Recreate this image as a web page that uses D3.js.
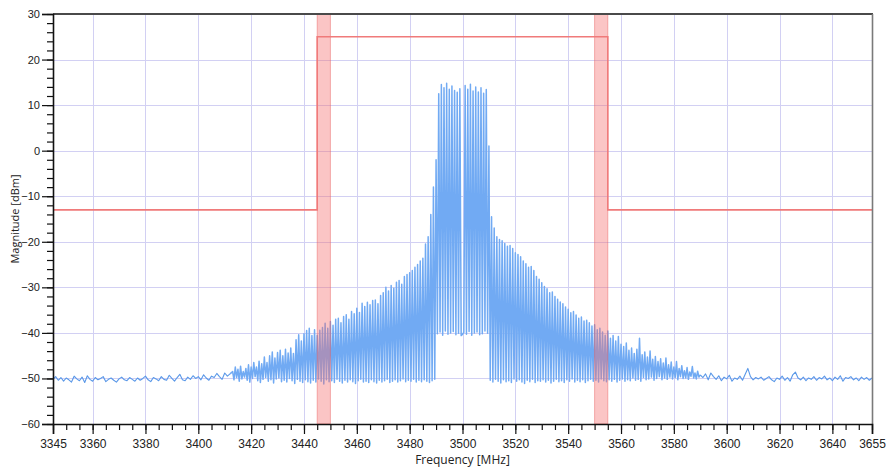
<!DOCTYPE html>
<html><head><meta charset="utf-8">
<script src="https://cdn.jsdelivr.net/npm/d3@7"></script>
<style>
body{margin:0;background:#fff;}
svg{display:block;font-family:"Open Sans",sans-serif;}
</style>
</head><body>
<svg id="chart" width="888" height="468"></svg>
<script>
// ---------------- data ----------------
const xTickLabels = [3345,3360,3380,3400,3420,3440,3460,3480,3500,3520,3540,3560,3580,3600,3620,3640,3655];
const yTickLabels = [-60,-50,-40,-30,-20,-10,0,10,20,30];

// spectrum emission mask (limit line)
const maskFreq  = [3345,3445,3445,3555,3555,3655];
const maskLimit = [-13,-13,25,25,-13,-13];
// highlighted guard bands
const bandStart = [3445,3550];
const bandEnd   = [3450,3555];

// noise floor left: 3345 .. 3412 MHz, 1 MHz step
const floorLeftStart = 3345, floorLeftEnd = 3412;
const floorLeft = [-50.2,-49.6,-50.4,-49.8,-50.6,-49.9,-50.3,-50.8,-49.5,-50.1,
  -50.5,-49.7,-50.9,-49.4,-50.2,-50.6,-49.8,-50.3,-50.0,-49.6,
  -50.7,-50.2,-49.9,-50.4,-50.8,-50.1,-49.7,-50.3,-50.5,-49.8,
  -50.2,-50.6,-49.9,-50.4,-50.0,-49.5,-50.3,-50.7,-49.8,-50.1,
  -50.5,-49.6,-50.2,-50.4,-49.3,-50.0,-50.6,-49.8,-49.1,-50.3,
  -50.5,-49.7,-50.2,-49.4,-50.0,-49.6,-50.3,-49.2,-49.9,-50.4,
  -49.5,-49.8,-48.9,-49.6,-50.2,-48.8,-49.5,-49.0];

// comb region: peaks at 3413 .. 3589 MHz (1 MHz step), troughs half-way after each peak
const combStart = 3413, combEnd = 3589;
const combPeaks = [
  -48.5,-47.5,-48.0,-47.3,-48.5,-47.8,-47.0,-47.5,-46.5,-47.5,
  -46.2,-46.8,-45.3,-46.5,-45.0,-44.2,-45.5,-44.3,-43.8,-45.0,
  -43.6,-44.4,-43.3,-44.5,-41.5,-40.4,-41.8,-40.2,-39.5,-39.0,
  -40.6,-39.3,-40.5,-39.4,-38.8,-37.9,-39.0,-37.5,-38.3,-37.0,
  -36.8,-37.8,-36.4,-36.0,-37.0,-35.3,-35.8,-34.6,-35.5,-33.5,
  -34.2,-33.3,-33.8,-32.9,-32.8,-33.6,-31.8,-31.2,-30.0,-30.8,
  -29.6,-30.2,-28.9,-28.5,-29.3,-27.6,-27.2,-26.8,-26.3,-25.6,
  -25.0,-24.2,-23.6,-20.5,-18.9,-14.0,-8.0,-2.0,12.5,14.5,
  13.8,14.8,13.5,14.2,13.2,12.8,13.6,-40.3,14.3,13.5,
  14.6,13.1,14.0,12.9,13.8,12.6,13.4,1.0,-14.5,-17.0,
  -18.9,-19.5,-19.8,-20.4,-21.0,-20.8,-21.5,-22.4,-22.8,-23.3,
  -24.2,-24.8,-25.6,-25.4,-26.3,-27.6,-28.2,-29.0,-29.8,-30.3,
  -31.2,-31.0,-32.0,-32.6,-33.2,-33.6,-34.3,-34.8,-35.6,-35.3,
  -36.1,-36.8,-36.5,-37.4,-37.2,-37.8,-38.5,-38.2,-39.3,-39.0,
  -39.8,-40.5,-39.6,-41.2,-40.6,-41.8,-40.8,-42.5,-43.0,-42.2,
  -43.8,-43.3,-44.5,-43.6,-41.2,-44.8,-44.2,-45.3,-44.0,-45.8,
  -45.2,-46.3,-45.7,-46.6,-45.5,-47.0,-46.4,-47.5,-46.3,-47.8,
  -47.2,-48.3,-47.6,-48.6,-47.4,-48.8,-48.4];
const combTroughs = [
  -50.3,-49.8,-50.6,-50.1,-49.7,-50.4,-50.8,-50.0,-49.6,-50.5,
  -50.9,-50.2,-49.8,-50.6,-50.3,-51.0,-50.1,-49.9,-50.7,-50.4,
  -50.8,-50.0,-50.5,-51.1,-50.2,-50.6,-50.9,-50.3,-50.7,-51.0,
  -50.4,-50.8,-50.1,-50.6,-51.2,-50.3,-50.7,-50.5,-50.9,-50.2,
  -50.6,-51.0,-50.4,-50.8,-50.3,-50.7,-51.1,-50.5,-50.2,-50.8,
  -50.6,-50.9,-50.3,-50.7,-51.0,-50.4,-50.8,-50.5,-50.2,-50.9,
  -50.6,-50.3,-50.8,-50.5,-50.1,-50.7,-50.4,
  -50.6,-50.2,-50.8,-50.4,-50.7,-50.3,-50.6,-50.9,-50.5,-50.2,
  -40.2,-39.8,-40.5,-39.6,-40.3,-40.0,-39.7,-40.4,-40.1,-40.6,
  -39.9,-40.3,-39.7,-40.5,-40.0,-39.8,-40.4,-40.2,-39.6,-40.1,
  -50.4,-50.8,-50.2,-50.6,-51.0,-50.3,-50.7,-50.5,-50.9,-50.1,
  -50.6,-50.3,-50.8,-51.1,-50.4,-50.7,-50.2,-50.9,-50.5,-50.6,
  -50.3,-50.8,-50.4,-51.0,-50.6,-50.2,-50.7,-50.5,-50.9,-50.3,
  -50.6,-50.1,-50.8,-50.4,-50.7,-50.3,-50.9,-50.5,-50.2,-50.6,
  -50.4,-50.8,-50.1,-50.5,-50.7,-50.3,-50.6,-50.2,-50.8,-50.4,
  -50.1,-50.6,-50.3,-50.5,-49.9,-50.4,-50.2,-50.6,-49.8,-50.3,
  -50.1,-49.7,-50.4,-50.0,-49.6,-50.3,-49.9,-50.2,-49.7,-50.1,
  -49.8,-50.3,-49.6,-50.0,-49.9,-50.2,-49.5,-49.9,-50.1,-49.7];

// noise floor right: 3590 .. 3655 MHz, 1 MHz step
const floorRightStart = 3590, floorRightEnd = 3655;
const floorRight = [-49.2,-49.8,-49.0,-50.3,-48.8,-49.6,-50.2,-49.4,-50.5,-49.7,
  -50.1,-49.3,-50.6,-49.9,-50.2,-49.5,-50.4,-49.1,-47.8,-49.6,
  -50.3,-49.8,-50.1,-49.7,-50.4,-50.0,-49.6,-50.3,-50.7,-49.9,
  -50.2,-49.5,-50.4,-49.8,-50.6,-49.2,-48.6,-49.9,-50.3,-49.7,
  -50.5,-49.9,-50.2,-49.6,-50.4,-49.8,-50.1,-49.5,-50.3,-49.9,
  -50.5,-49.7,-50.2,-49.4,-50.6,-49.8,-50.0,-49.6,-50.3,-49.9,
  -50.5,-49.7,-50.2,-49.8,-50.4,-49.9];

// ---------------- build trace ----------------
function spread(vals, a, b){
  const n = vals.length;
  return vals.map((v,i)=>({f: n>1 ? a + i*(b-a)/(n-1) : a, v}));
}
const leftPts = spread(floorLeft, floorLeftStart, floorLeftEnd);
const rightPts = spread(floorRight, floorRightStart, floorRightEnd);
const combPts = [];
const nComb = combPeaks.length;
for(let i=0;i<nComb;i++){
  const f = combStart + i*(combEnd-combStart)/(nComb-1);
  combPts.push({f, v: combPeaks[i]});
  if (i < combTroughs.length) combPts.push({f: f+0.5, v: combTroughs[i]});
}
combPts.unshift(leftPts[leftPts.length-1]);
combPts.push(rightPts[0]);

// ---------------- chart ----------------
const svg = d3.select("#chart");
const L=53, R=872, T=14, B=424;
const x = d3.scaleLinear().domain([3345,3655]).range([L,R]);
const y = d3.scaleLinear().domain([-60,30]).range([B,T]);

svg.append("defs").append("clipPath").attr("id","clip")
  .append("rect").attr("x",L).attr("y",T).attr("width",R-L).attr("height",B-T);

// grid
const grid = svg.append("g").attr("stroke","#d2d0f3").attr("stroke-width",1);
grid.selectAll("line.v").data(xTickLabels.filter(d=>d>3345 && d<3655)).join("line")
  .attr("x1",d=>Math.round(x(d))+0.5).attr("x2",d=>Math.round(x(d))+0.5)
  .attr("y1",T).attr("y2",B);
grid.selectAll("line.h").data(yTickLabels.filter(d=>d>-60 && d<30)).join("line")
  .attr("y1",d=>Math.round(y(d))+0.5).attr("y2",d=>Math.round(y(d))+0.5)
  .attr("x1",L).attr("x2",R);

// spectrum trace
const line = d3.line().x(d=>x(d.f)).y(d=>y(d.v));
const spec = svg.append("g").attr("clip-path","url(#clip)").attr("fill","none").attr("stroke-linejoin","round");
spec.append("path").datum(combPts)
  .attr("stroke","#71aaf3").attr("stroke-width",1.5).attr("d",line);
spec.append("path").datum(leftPts)
  .attr("stroke","#5a98e8").attr("stroke-width",1.1).attr("d",line);
spec.append("path").datum(rightPts)
  .attr("stroke","#5a98e8").attr("stroke-width",1.1).attr("d",line);

// guard bands
svg.append("g").selectAll("rect").data(bandStart.map((s,i)=>({s,e:bandEnd[i]}))).join("rect")
  .attr("x",d=>x(d.s)).attr("width",d=>x(d.e)-x(d.s))
  .attr("y",T).attr("height",B-T)
  .attr("fill","rgba(245,110,110,0.40)")
  .attr("stroke","rgba(230,90,90,0.45)").attr("stroke-width",1);

// mask line
const maskPts = maskFreq.map((f,i)=>({f, v: maskLimit[i]}));
svg.append("path").datum(maskPts)
  .attr("fill","none").attr("stroke","#f07a7a").attr("stroke-width",1.6)
  .attr("d",line);

// frame (top/right)
svg.append("line").attr("x1",L).attr("x2",R+1).attr("y1",T).attr("y2",T)
  .attr("stroke","#4a4a4a").attr("stroke-width",1.8);
svg.append("line").attr("x1",R+0.5).attr("x2",R+0.5).attr("y1",T).attr("y2",B)
  .attr("stroke","#7a7a7a").attr("stroke-width",1.6);

// axes
const fontX = "12px", fontY = "11px";
const xMinor = d3.range(3345, 3656, 5);
const yMinor = d3.range(-60, 31, 2);

const gxMinor = svg.append("g").attr("transform",`translate(0,${B})`)
  .call(d3.axisBottom(x).tickValues(xMinor).tickSize(6).tickFormat(""));
gxMinor.select(".domain").remove();
const gx = svg.append("g").attr("transform",`translate(0,${B})`)
  .call(d3.axisBottom(x).tickValues(xTickLabels).tickSize(10).tickPadding(5).tickFormat(d3.format("d")));
gx.selectAll("text").style("font-size",fontX).attr("fill","#222");

const gyMinor = svg.append("g").attr("transform",`translate(${L},0)`)
  .call(d3.axisLeft(y).tickValues(yMinor).tickSize(6).tickFormat(""));
gyMinor.select(".domain").remove();
const gy = svg.append("g").attr("transform",`translate(${L},0)`)
  .call(d3.axisLeft(y).tickValues(yTickLabels).tickSize(11).tickPadding(2).tickFormat(d3.format("d")));
gy.selectAll("text").style("font-size",fontY).attr("fill","#222");

[gx,gy,gxMinor,gyMinor].forEach(g=>{
  g.selectAll("line").attr("stroke","#111").attr("stroke-width",1.2);
  g.select(".domain").attr("stroke","#111").attr("stroke-width",1.6);
});

// axis titles
svg.append("text").attr("x",(L+R)/2).attr("y",464)
  .attr("text-anchor","middle").style("font-size","12px").attr("fill","#222")
  .text("Frequency [MHz]");
svg.append("text").attr("transform",`translate(19,${(T+B)/2}) rotate(-90)`)
  .attr("text-anchor","middle").style("font-size","11px").attr("fill","#222")
  .text("Magnitude [dBm]");
</script>
</body></html>
